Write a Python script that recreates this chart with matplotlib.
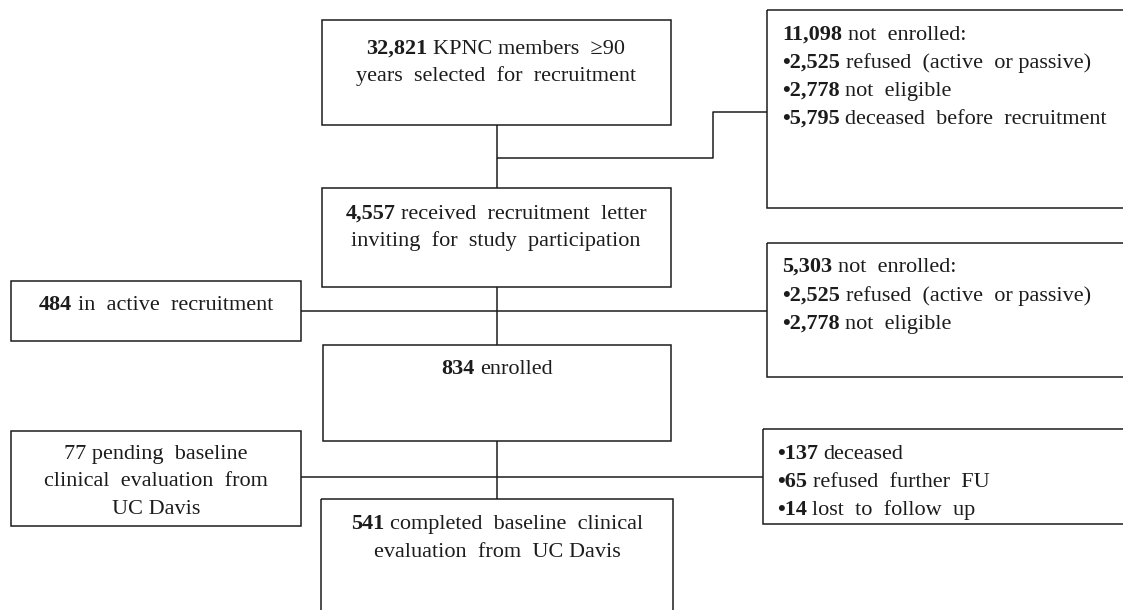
import matplotlib
matplotlib.use("Agg")
import matplotlib.pyplot as plt
from matplotlib.patches import Rectangle

# counts shown in the recruitment flow diagram
n_selected = 32821
n_not_enrolled_1 = 11098
n_refused = 2525
n_not_eligible = 2778
n_deceased_before = 5795
n_letter = 4557
n_active = 484
n_not_enrolled_2 = 5303
n_enrolled = 834
n_pending = 77
n_completed = 541
n_deceased = 137
n_refused_fu = 65
n_lost = 14


def fmt(n):
    return f"{n:,}"


# each box: list of lines, each line = (bold part, regular part)
lines_selected = [(fmt(n_selected), "KPNC members  \u226590"),
                  ("", "years  selected  for  recruitment")]
lines_excl_1 = [(fmt(n_not_enrolled_1), "not  enrolled:"),
                ("\u2022" + fmt(n_refused), "refused  (active  or passive)"),
                ("\u2022" + fmt(n_not_eligible), "not  eligible"),
                ("\u2022" + fmt(n_deceased_before), "deceased  before  recruitment")]
lines_letter = [(fmt(n_letter), "received  recruitment  letter"),
                ("", "inviting  for  study  participation")]
lines_active = [(fmt(n_active), "in  active  recruitment")]
lines_excl_2 = [(fmt(n_not_enrolled_2), "not  enrolled:"),
                ("\u2022" + fmt(n_refused), "refused  (active  or passive)"),
                ("\u2022" + fmt(n_not_eligible), "not  eligible")]
lines_enrolled = [(fmt(n_enrolled), "enrolled")]
lines_pending = [("", f"{n_pending} pending  baseline"),
                 ("", "clinical  evaluation  from"),
                 ("", "UC Davis")]
lines_completed = [(fmt(n_completed), "completed  baseline  clinical"),
                   ("", "evaluation  from  UC Davis")]
lines_loss = [("\u2022" + fmt(n_deceased), "deceased"),
              ("\u2022" + fmt(n_refused_fu), "refused  further  FU"),
              ("\u2022" + fmt(n_lost), "lost  to  follow  up")]

# layout in pixels: (x0, y0, x1, y1), text anchor x, first line y, line step, alignment
W, H = 1123, 610
FONT = ["Liberation Serif", "DejaVu Serif"]
FS = 16
INK = "#1c1c1c"
LW = 1.1

boxes = [
    (lines_selected, (322, 20, 671, 125), 496, 47, 27, "center"),
    (lines_excl_1, (767, 10, 1135, 208), 782, 33, 28, "left"),
    (lines_letter, (322, 188, 671, 287), 496, 212, 27, "center"),
    (lines_active, (11, 281, 301, 341), 156, 303, 27, "center"),
    (lines_excl_2, (767, 243, 1135, 377), 782, 265, 28.5, "left"),
    (lines_enrolled, (323, 345, 671, 441), 497, 367, 27, "center"),
    (lines_pending, (11, 431, 301, 526), 156, 452, 27.5, "center"),
    (lines_completed, (321, 499, 673, 640), 497, 522, 28, "center"),
    (lines_loss, (763, 429, 1135, 524), 777, 452, 28, "left"),
]

fig = plt.figure(figsize=(W / 100, H / 100), dpi=100)
ax = fig.add_axes([0, 0, 1, 1])
ax.set_xlim(0, W)
ax.set_ylim(H, 0)
ax.axis("off")
renderer = fig.canvas.get_renderer()


def text_width(s, weight):
    t = ax.text(0, 0, s, fontsize=FS, fontweight=weight, family=FONT)
    w = t.get_window_extent(renderer).width
    t.remove()
    return w


SPACE = text_width("a a", "normal") - text_width("aa", "normal")


def put_line(x, y, bold, rest, ha):
    parts = [(s, w) for s, w in ((bold, "bold"), (rest, "normal")) if s]
    texts = [ax.text(0, y, s, fontsize=FS, fontweight=w, family=FONT,
                     va="baseline", ha="left", color=INK) for s, w in parts]
    widths = [t.get_window_extent(renderer).width for t in texts]
    gap = SPACE if len(texts) == 2 else 0
    total = sum(widths) + gap
    x0 = x - total / 2 if ha == "center" else x
    for t, w in zip(texts, widths):
        t.set_x(x0)
        x0 += w + gap


for lines, (x0, y0, x1, y1), tx, ty, step, ha in boxes:
    ax.add_patch(Rectangle((x0, y0), x1 - x0, y1 - y0, fill=False,
                           ec=INK, lw=LW, clip_on=True))
    for i, (b, r) in enumerate(lines):
        put_line(tx, ty + i * step + 7, b, r, ha)

# connectors
conn = [
    ([497, 497], [125, 188]),
    ([497, 713, 713, 767], [158, 158, 112, 112]),
    ([497, 497], [287, 345]),
    ([301, 767], [311, 311]),
    ([497, 497], [441, 499]),
    ([301, 763], [477, 477]),
]
for xs, ys in conn:
    ax.plot(xs, ys, color=INK, lw=LW, solid_capstyle="butt")

fig.savefig("out.png", dpi=100, facecolor="white")
